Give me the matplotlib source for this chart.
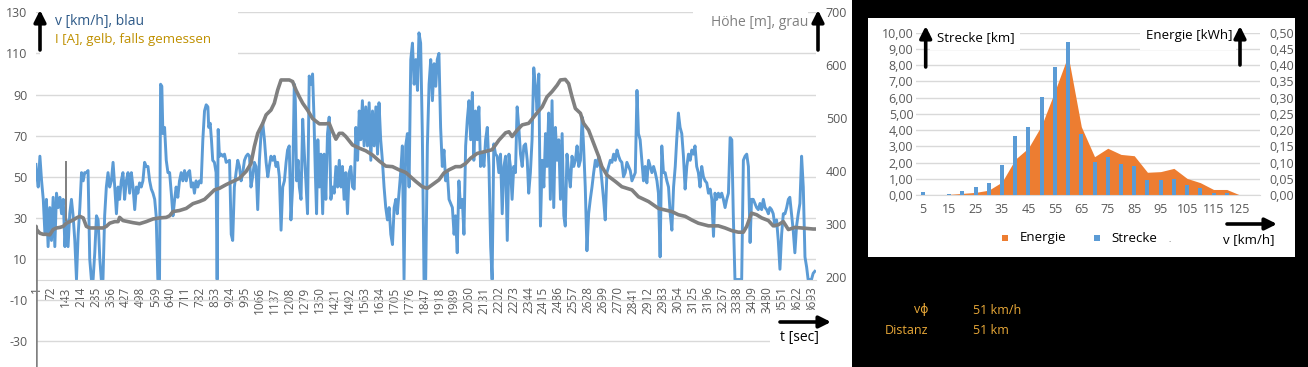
import matplotlib
matplotlib.use("Agg")
import matplotlib.pyplot as plt
from matplotlib.patches import Rectangle

plt.rcParams['font.family'] = ['Open Sans', 'DejaVu Sans']
plt.rcParams['axes.unicode_minus'] = False

# --- Fahrtdaten: Geschwindigkeit [km/h] über Zeit [sec] ---
speed_t = [1, 4, 12, 20, 28, 36, 44, 51, 59, 67,
           75, 83, 91, 99, 107, 115, 123, 131, 139, 146,
           154, 162, 170, 178, 186, 194, 202, 210, 218, 226,
           233, 241, 249, 257, 265, 273, 281, 289, 297, 305,
           312, 320, 328, 336, 344, 352, 360, 368, 376, 384,
           392, 399, 407, 415, 423, 431, 439, 447, 455, 463,
           471, 479, 486, 494, 502, 510, 518, 526, 534, 542,
           550, 558, 566, 573, 581, 589, 594, 600, 605, 613,
           621, 629, 637, 645, 653, 661, 668, 676, 684, 692,
           700, 708, 716, 724, 732, 740, 748, 755, 763, 771,
           779, 787, 795, 803, 811, 819, 823, 830, 836, 842,
           850, 858, 863, 868, 874, 882, 890, 898, 906, 922,
           930, 937, 945, 953, 961, 969, 977, 985, 993, 1001,
           1009, 1017, 1024, 1032, 1040, 1048, 1056, 1064, 1072, 1080,
           1088, 1096, 1104, 1111, 1119, 1127, 1135, 1143, 1151, 1159,
           1167, 1175, 1183, 1191, 1198, 1206, 1214, 1222, 1230, 1235,
           1241, 1248, 1254, 1262, 1270, 1278, 1285, 1293, 1301, 1309,
           1317, 1323, 1330, 1336, 1342, 1349, 1357, 1365, 1372, 1380,
           1388, 1396, 1404, 1412, 1420, 1428, 1436, 1444, 1452, 1459,
           1467, 1475, 1483, 1491, 1499, 1507, 1515, 1523, 1531, 1539,
           1546, 1554, 1562, 1570, 1578, 1586, 1594, 1602, 1610, 1618,
           1626, 1633, 1641, 1649, 1657, 1665, 1673, 1681, 1689, 1697,
           1705, 1713, 1720, 1728, 1736, 1744, 1752,
           1760, 1768, 1776, 1784, 1792, 1800, 1808, 1816, 1823, 1831,
           1839, 1847, 1855, 1863, 1871, 1879, 1887, 1895, 1903, 1910,
           1918, 1926, 1934, 1942, 1950, 1958, 1966, 1974, 1982, 1990,
           1997, 2005, 2013, 2021, 2029, 2037, 2045, 2053, 2061, 2069,
           2077, 2084, 2092, 2100, 2108, 2116, 2124, 2132, 2140, 2148,
           2156, 2164, 2171, 2179, 2187, 2195, 2203, 2211, 2219, 2227,
           2235, 2243, 2251, 2258, 2266, 2274, 2282, 2290, 2298, 2306,
           2314, 2322, 2330, 2338, 2345, 2353, 2361, 2369, 2377, 2385,
           2393, 2401, 2409, 2417, 2425, 2432, 2440, 2448, 2456, 2464,
           2472, 2480, 2488, 2496, 2504, 2512, 2519, 2527, 2535, 2543,
           2551, 2559, 2567, 2575, 2583, 2591, 2599, 2606, 2614, 2622,
           2630, 2638, 2646, 2654, 2662, 2670, 2678, 2686, 2693, 2701,
           2709, 2717, 2725, 2733, 2741, 2749, 2757, 2765, 2773, 2780,
           2788, 2796, 2804, 2812, 2820, 2828, 2836, 2844, 2852, 2860,
           2867, 2875, 2883, 2891, 2899, 2907, 2915, 2923, 2931, 2939,
           2947, 2955, 2962, 2970, 2978, 2986, 2994, 3002, 3010, 3018,
           3026, 3034, 3042, 3049, 3057, 3065, 3073, 3081, 3089, 3097,
           3105, 3113, 3121, 3129, 3136, 3144, 3152, 3160, 3168, 3176,
           3184, 3192, 3200, 3208, 3216, 3224, 3231, 3239, 3247, 3255,
           3263, 3271, 3279, 3287, 3295, 3303, 3311, 3318, 3326, 3342,
           3358, 3366, 3374, 3382, 3390, 3398, 3405, 3413, 3421, 3429,
           3437, 3445, 3453, 3461, 3469, 3477, 3485, 3492, 3500, 3508,
           3516, 3524, 3532, 3540, 3548, 3556, 3564, 3572, 3580, 3587,
           3595, 3603, 3611, 3619, 3627, 3635, 3643, 3651, 3659, 3667,
           3674, 3690, 3698, 3706]
speed_v = [56, 52, 45, 60, 48, 39, 22, 39, 16, 35,
           19, 40, 16, 42, 35, 40, 32, 39, 16, 29,
           16, 32, 39, 31, 19, 0, 22, 35, 52, 48,
           52, 52, 53, 10, 0, 0, 13, 31, 29, 10,
           0, 0, 31, 45, 52, 45, 48, 57, 45, 32,
           45, 39, 48, 52, 39, 48, 52, 42, 52, 45,
           34, 45, 42, 47, 45, 48, 57, 55, 55, 48,
           44, 42, 39, 31, 0, 0, 95, 94, 71, 74,
           58, 52, 52, 42, 31, 39, 45, 40, 48, 52,
           48, 53, 48, 52, 53, 45, 47, 42, 48, 45,
           48, 47, 68, 82, 85, 84, 74, 76, 68, 58,
           57, 52, 0, 73, 60, 61, 60, 61, 57, 58,
           22, 19, 45, 52, 58, 55, 48, 52, 58, 60,
           61, 60, 45, 50, 57, 55, 34, 58, 71, 76,
           68, 57, 50, 55, 60, 58, 60, 55, 57, 50,
           24, 45, 48, 57, 63, 65, 29, 45, 95, 87,
           48, 58, 45, 39, 78, 61, 48, 32, 99, 95,
           100, 81, 52, 32, 68, 45, 61, 32, 61, 39,
           71, 79, 39, 45, 42, 55, 45, 58, 45, 55,
           39, 52, 32, 52, 55, 45, 44, 74, 58, 82,
           68, 87, 65, 84, 65, 86, 58, 82, 65, 84,
           61, 86, 68, 58, 45, 35, 29, 35, 22, 17,
           35, 39, 32, 42, 52, 65, 0,
           65, 71, 45, 107, 115, 95, 107, 92, 120, 115,
           71, 0, 0, 65, 95, 107, 87, 105, 94, 107,
           110, 74, 55, 63, 48, 52, 39, 37, 35, 22,
           31, 13, 48, 35, 39, 22, 65, 78, 87, 68,
           91, 58, 82, 68, 84, 55, 61, 55, 68, 74,
           55, 16, 0, 66, 61, 60, 52, 61, 32, 55,
           60, 19, 61, 55, 39, 55, 52, 84, 74, 61,
           55, 65, 66, 58, 42, 52, 68, 103, 94, 82,
           100, 26, 58, 45, 71, 55, 81, 39, 87, 35,
           74, 58, 68, 39, 71, 31, 26, 61, 52, 45,
           60, 55, 58, 65, 55, 58, 79, 65, 45, 14,
           32, 39, 45, 52, 58, 55, 60, 55, 48, 39,
           29, 52, 55, 58, 57, 61, 58, 63, 60, 58,
           57, 50, 52, 57, 55, 53, 48, 50, 52, 92,
           71, 68, 58, 48, 55, 47, 58, 55, 52, 55,
           52, 48, 42, 11, 65, 52, 52, 48, 45, 32,
           24, 45, 55, 68, 81, 74, 71, 60, 44, 55,
           61, 58, 63, 61, 65, 55, 52, 45, 55, 50,
           48, 47, 42, 44, 39, 21, 42, 39, 42, 40,
           42, 39, 35, 39, 42, 69, 68, 32, 0, 0,
           0, 58, 60, 61, 55, 18, 39, 39, 37, 35,
           34, 37, 34, 39, 35, 34, 32, 35, 34, 32,
           26, 29, 19, 5, 22, 32, 32, 35, 39, 40,
           32, 24, 13, 26, 32, 37, 60, 45, 11, 6,
           0, 0, 3, 4]

# --- Höhe [m] über Zeit [sec] ---
alt_t = [1, 2, 4, 20, 36, 51, 67, 83, 99, 115,
         131, 146, 162, 178, 194, 210, 226, 241, 257, 289,
         320, 336, 352, 376, 392, 399, 415, 439, 463, 494,
         526, 558, 589, 621, 637, 653, 684, 716, 748, 779,
         803, 827, 850, 874, 906, 937, 969, 1001, 1024, 1040,
         1056, 1080, 1096, 1119, 1135, 1151, 1167, 1206, 1222, 1238,
         1254, 1270, 1293, 1317, 1349, 1380, 1396, 1412, 1428, 1444,
         1459, 1475, 1507, 1539, 1570, 1602, 1633, 1665, 1697, 1728,
         1760, 1808, 1839, 1863, 1887, 1918, 1942, 1966, 1997, 2021,
         2045, 2069, 2100, 2132, 2171, 2203, 2235, 2251, 2266, 2290,
         2314, 2345, 2377, 2409, 2432, 2456, 2480, 2496, 2519, 2535,
         2551, 2567, 2591, 2606, 2630, 2654, 2678, 2693, 2717, 2757,
         2788, 2836, 2867, 2915, 2962, 2994, 3026, 3057, 3089, 3121,
         3152, 3200, 3247, 3279, 3311, 3342, 3366, 3382, 3405, 3429,
         3453, 3485, 3508, 3532, 3556, 3580, 3611, 3643, 3698, 3711]
alt_h = [0, 295, 289, 282, 280, 280, 279, 289, 292, 293,
         295, 301, 304, 307, 311, 314, 311, 295, 292, 292,
         292, 295, 301, 304, 304, 312, 306, 304, 302, 300,
         304, 309, 311, 312, 315, 323, 325, 329, 338, 342,
         346, 355, 364, 367, 374, 380, 386, 399, 414, 446,
         471, 490, 506, 515, 528, 553, 572, 572, 569, 553,
         540, 528, 515, 499, 489, 489, 490, 474, 460, 471,
         471, 465, 449, 443, 438, 430, 419, 409, 408, 402,
         397, 380, 370, 367, 374, 383, 396, 402, 408, 408,
         414, 424, 433, 436, 440, 458, 472, 474, 465, 477,
         487, 490, 506, 521, 540, 550, 562, 572, 573, 565,
         540, 518, 509, 490, 477, 452, 427, 408, 392, 380,
         370, 364, 351, 342, 329, 326, 323, 317, 314, 307,
         301, 296, 296, 292, 287, 284, 284, 295, 320, 317,
         311, 306, 296, 298, 304, 289, 293, 292, 290, 290]

# kurzer grauer Strich bei t ~ 146 s
mark_t = [146, 146]
mark_v = [29, 57]

x_tick_labels = list(range(1, 3694, 71))
n_seconds = 3711

# --- Verteilung nach Geschwindigkeit ---
v_classes = [5, 10, 15, 20, 25, 30, 35, 40, 45, 50, 55, 60, 65,
             70, 75, 80, 85, 90, 95, 100, 105, 110, 115, 120, 125, 130]
strecke = [0.16, 0.0, 0.06, 0.25, 0.47, 0.74, 1.85, 3.63, 4.19, 6.04, 7.88, 9.42, 3.76,
           2.01, 2.36, 1.91, 1.79, 0.92, 0.92, 0.99, 0.62, 0.43, 0.14, 0.14, 0.0, 0.0]
energie = [0.0, 0.0, 0.002, 0.005, 0.008, 0.015, 0.04, 0.11, 0.145, 0.215, 0.32, 0.43, 0.21,
           0.118, 0.144, 0.125, 0.121, 0.07, 0.072, 0.082, 0.051, 0.038, 0.017, 0.017, 0.0, 0.0]

W, H = 1308, 367
fig = plt.figure(figsize=(W / 100, H / 100), dpi=100)


def fx(x):
    return x / W


def fy(y):
    return 1 - y / H


def rect(x0, y0, x1, y1, color, z):
    fig.add_artist(Rectangle((fx(x0), fy(y1)), (x1 - x0) / W, (y1 - y0) / H,
                             transform=fig.transFigure, facecolor=color,
                             edgecolor='none', zorder=z))


def arrow(x0, y0, x1, y1):
    fig.add_artist(matplotlib.text.Annotation(
        '', xy=(x1, H - y1), xytext=(x0, H - y0), xycoords='figure pixels',
        arrowprops=dict(arrowstyle='-|>,head_length=0.7,head_width=0.35',
                        lw=2.6, color='black', shrinkA=0, shrinkB=0),
        zorder=5))


grey_txt = '#595959'
grid_col = '#D9D9D9'

# black background right part + white chart box
rect(852, 0, W, H, 'black', -2)
rect(868, 18, 1295, 257, 'white', -1)

# ================= left chart =================
ax = fig.add_axes([fx(35.8), fy(382.3), (816 - 35.8) / W, (382.3 - 12.3) / H])
ax.patch.set_alpha(0)
ax.set_xlim(0.5, n_seconds + 0.5)
ax.set_ylim(-50, 130)
ax.plot(speed_t, speed_v, color='#5B9BD5', lw=2.1, solid_joinstyle='round')
ax.plot(mark_t, mark_v, color='#7F7F7F', lw=1.4)
ax.set_yticks(range(-30, 131, 20))
ax.grid(axis='y', color=grid_col, lw=1)
ax.set_axisbelow(True)
for s in ['left', 'right', 'top']:
    ax.spines[s].set_visible(False)
ax.spines['bottom'].set_position(('data', 0))
ax.spines['bottom'].set_color(grid_col)
ax.set_xticks(x_tick_labels)
ax.set_xticklabels([str(v) for v in x_tick_labels], rotation=90)
ax.tick_params(axis='x', length=0, pad=5, labelsize=8.5, colors=grey_txt)

ax2 = ax.twinx()
ax.tick_params(axis='y', length=0, pad=6, labelsize=9, colors=grey_txt)
ax2.set_ylim(0, 700)
ax2.plot(alt_t, alt_h, color='#808080', lw=2.6, solid_joinstyle='round')
ax2.set_yticks(range(200, 701, 100))
ax2.tick_params(axis='y', length=0, pad=7, labelsize=9, colors=grey_txt)
for s in ax2.spines.values():
    s.set_visible(False)

# text boxes covering the gridlines
rect(40, 4, 238, 56, 'white', 1)
rect(693, 4, 808, 40, 'white', 1)
rect(770, 310, 850, 352, 'white', 1)

arrow(40, 50, 40, 10)
arrow(818, 50, 818, 10)
arrow(780, 322, 831, 322)
fig.text(fx(55), fy(22), 'v [km/h], blau', color='#2E5A88', fontsize=10, va='center')
fig.text(fx(55), fy(40), 'I [A], gelb, falls gemessen', color='#BF9000', fontsize=9.5, va='center')
fig.text(fx(808), fy(23), 'Höhe [m], grau', color='#808080', fontsize=10, va='center', ha='right')
fig.text(fx(780), fy(337), 't [sec]', color='black', fontsize=10, va='center')

# ================= right chart =================
idx = list(range(len(v_classes)))
axe = fig.add_axes([fx(916.1), fy(195), (1259.8 - 916.1) / W, (195 - 32.7) / H])
axe.patch.set_alpha(0)
axe.set_xlim(-0.5, len(v_classes) - 0.5)
axe.set_ylim(0, 0.5)
axe.fill_between(idx, energie, color='#ED7D31', lw=0)
axe.grid(axis='y', color=grid_col, lw=1)
axe.set_axisbelow(True)
axe.set_xticks(idx[::2])
axe.set_xticklabels([str(v) for v in v_classes[::2]])
axe.tick_params(axis='x', length=0, pad=6, labelsize=9, colors=grey_txt)
for s in ['left', 'right', 'top']:
    axe.spines[s].set_visible(False)
axe.spines['bottom'].set_color(grid_col)

axs = axe.twinx()
# twinx moves the host ticks to the left, so set sides afterwards
axe.yaxis.tick_right()
axe.set_yticks([i * 0.05 for i in range(11)])
axe.set_yticklabels([f'{i * 0.05:.2f}'.replace('.', ',') for i in range(11)])
axe.tick_params(axis='y', length=0, pad=7, labelsize=9, colors=grey_txt)

axs.set_ylim(0, 10)
axs.bar(idx, strecke, width=0.3, color='#5B9BD5')
axs.yaxis.tick_left()
axs.set_yticks(range(11))
axs.set_yticklabels([f'{i:.2f}'.replace('.', ',') for i in range(11)])
axs.tick_params(axis='y', length=0, pad=2, labelsize=9, colors=grey_txt)
for s in axs.spines.values():
    s.set_visible(False)

rect(930, 24, 1020, 50, 'white', 1)
rect(1140, 24, 1236, 50, 'white', 1)
arrow(925.7, 67, 925.7, 26)
arrow(1240, 65, 1240, 26)
arrow(1227, 224, 1277, 224)
fig.text(fx(937), fy(37.5), 'Strecke [km]', color='black', fontsize=9.5, va='center')
fig.text(fx(1232), fy(36), 'Energie [kWh]', color='black', fontsize=9.5, va='center', ha='right')
fig.text(fx(1223), fy(240), 'v [km/h]', color='black', fontsize=9.5, va='center')

# legend
rect(1002, 235, 1008, 241, '#ED7D31', 2)
fig.text(fx(1020), fy(238), 'Energie', color='black', fontsize=9.5, va='center')
rect(1094, 235, 1100, 241, '#5B9BD5', 2)
fig.text(fx(1111), fy(238), 'Strecke', color='black', fontsize=9.5, va='center')
fig.text(fx(1168), fy(240), '.', color='#595959', fontsize=6, va='center')

# summary values
gold = '#E8A838'
fig.text(fx(928), fy(310), 'vϕ', color=gold, fontsize=9, va='center', ha='right')
fig.text(fx(973), fy(310), '51 km/h', color=gold, fontsize=9, va='center')
fig.text(fx(928), fy(330), 'Distanz', color=gold, fontsize=9, va='center', ha='right')
fig.text(fx(973), fy(330), '51 km', color=gold, fontsize=9, va='center')

fig.savefig('out.png', dpi=100)
